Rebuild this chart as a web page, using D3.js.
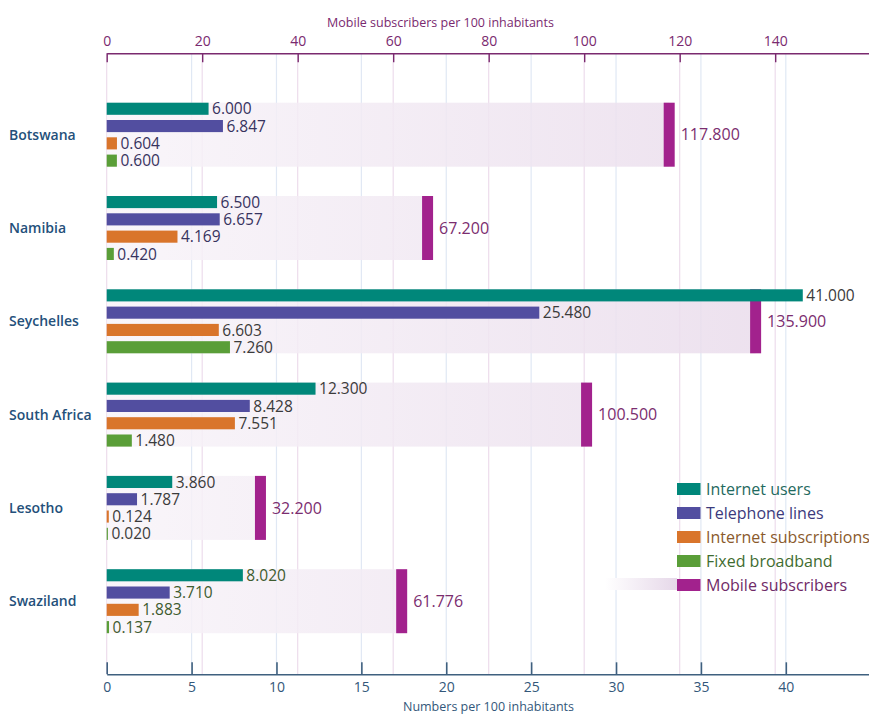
<!DOCTYPE html>
<html>
<head>
<meta charset="utf-8">
<script src="https://cdn.jsdelivr.net/npm/d3@7"></script>
<style>
    body { margin: 0; background: #fff; }
    text { font-family: "Open Sans", "DejaVu Sans", sans-serif; }
</style>
</head>
<body>
<div id="chart"></div>
<script>
// data
const countries = ["Botswana", "Namibia", "Seychelles", "South Africa", "Lesotho", "Swaziland"];
const seriesNames = ["Internet users", "Telephone lines", "Internet subscriptions", "Fixed broadband"];
const internetUsers = [6.000, 6.500, 41.000, 12.300, 3.860, 8.020];
const telephoneLines = [6.847, 6.657, 25.480, 8.428, 1.787, 3.710];
const internetSubs = [0.604, 4.169, 6.603, 7.551, 0.124, 1.883];
const fixedBroadband = [0.600, 0.420, 7.260, 1.480, 0.020, 0.137];
const mobileSubs = [117.800, 67.200, 135.900, 100.500, 32.200, 61.776];
const bottomTicks = [0, 5, 10, 15, 20, 25, 30, 35, 40];
const topTicks = [0, 20, 40, 60, 80, 100, 120, 140];

class accessViz {
    constructor(parentElement) {
        this.parentElement = parentElement;
        this.colors = d3.scaleOrdinal()
            .domain(seriesNames.concat(["Mobile subscribers"]))
            .range(["#00877a", "#524ea0", "#d9752b", "#5a9e38", "#a2228d"]);
        this.textColors = d3.scaleOrdinal()
            .domain(seriesNames.concat(["Mobile subscribers"]))
            .range(["#1f6a60", "#3c3a7c", "#8a5a2c", "#3f6c30", "#6f2a67"]);
        this.labelColors = ["#37335e", "#37335e", "#3b3b3b", "#3b3b3b", "#3b3b3b", "#3e5b2f"];
        this.initVis();
    }

    initVis() {
        let vis = this;

        vis.width = 869;
        vis.height = 715;

        vis.svg = d3.select("#" + vis.parentElement).append("svg")
            .attr("width", vis.width)
            .attr("height", vis.height);

        let defs = vis.svg.append("defs");
        let band = defs.append("linearGradient")
            .attr("id", "bandGrad")
            .attr("gradientUnits", "userSpaceOnUse")
            .attr("x1", 107).attr("x2", 790).attr("y1", 0).attr("y2", 0);
        band.append("stop").attr("offset", 0).attr("stop-color", "#f8f4f9");
        band.append("stop").attr("offset", 1).attr("stop-color", "#e9dbeb");

        let legGrad = defs.append("linearGradient").attr("id", "legGrad");
        legGrad.append("stop").attr("offset", 0).attr("stop-color", "#ffffff");
        legGrad.append("stop").attr("offset", 1).attr("stop-color", "#e6d8e9");

        vis.x = d3.scaleLinear().domain([0, 45]).range([106.7, 870.7]);
        vis.xTop = d3.scaleLinear().domain([0, 160]).range([106.7, 870.7]);

        vis.y = d3.scaleBand()
            .domain(countries)
            .range([102.7, 633.2])
            .paddingInner(0.314);

        vis.ySub = d3.scaleBand()
            .domain(seriesNames)
            .range([0, vis.y.bandwidth()])
            .paddingInner(0.3);

        vis.rows = countries.map((c, i) => ({
            country: c,
            idx: i,
            values: [internetUsers[i], telephoneLines[i], internetSubs[i], fixedBroadband[i]],
            mobile: mobileSubs[i]
        }));

        vis.updateVis();
    }

    updateVis() {
        let vis = this;

        // grid lines
        vis.svg.selectAll(".gridTop")
            .data(topTicks)
            .enter()
            .append("line")
            .attr("x1", d => vis.xTop(d)).attr("x2", d => vis.xTop(d))
            .attr("y1", 53).attr("y2", 674)
            .style("stroke", "#eddcec")
            .style("stroke-width", 1.2);

        vis.svg.selectAll(".gridBottom")
            .data(bottomTicks.slice(1))
            .enter()
            .append("line")
            .attr("x1", d => vis.x(d)).attr("x2", d => vis.x(d))
            .attr("y1", 53).attr("y2", 674)
            .style("stroke", "#e0e8f4")
            .style("stroke-width", 1.2);

        // shaded background up to the mobile value
        vis.svg.selectAll(".bg")
            .data(vis.rows)
            .enter()
            .append("rect")
            .attr("class", "bg")
            .attr("x", vis.xTop(0))
            .attr("y", d => vis.y(d.country))
            .attr("width", d => vis.xTop(d.mobile) - vis.xTop(0))
            .attr("height", vis.y.bandwidth())
            .style("fill", "url(#bandGrad)")
            .style("opacity", 0.85);

        // country groups
        let groups = vis.svg.selectAll(".country")
            .data(vis.rows)
            .enter()
            .append("g")
            .attr("transform", d => "translate(0," + vis.y(d.country) + ")");

        groups.append("rect")
            .attr("x", d => vis.xTop(d.mobile) - 5.5)
            .attr("y", 0)
            .attr("width", 11)
            .attr("height", vis.y.bandwidth())
            .style("fill", vis.colors("Mobile subscribers"));

        groups.selectAll(".bar")
            .data(d => d.values.map((v, j) => ({v: v, s: seriesNames[j], idx: d.idx})))
            .enter()
            .append("rect")
            .attr("x", vis.x(0))
            .attr("y", d => vis.ySub(d.s))
            .attr("width", d => Math.max(1.2, vis.x(d.v) - vis.x(0)))
            .attr("height", vis.ySub.bandwidth())
            .style("fill", d => vis.colors(d.s));

        groups.selectAll(".val")
            .data(d => d.values.map((v, j) => ({v: v, s: seriesNames[j], idx: d.idx})))
            .enter()
            .append("text")
            .attr("x", d => Math.max(vis.x(d.v), vis.x(0) + 1.2) + 3.5)
            .attr("y", d => vis.ySub(d.s) + vis.ySub.bandwidth() / 2)
            .attr("dy", "0.36em")
            .style("font-size", "15.5px")
            .style("fill", d => vis.labelColors[d.idx])
            .text(d => d3.format(".3f")(d.v));

        groups.append("text")
            .attr("x", d => vis.xTop(d.mobile) + 11.5)
            .attr("y", vis.y.bandwidth() / 2)
            .attr("dy", "0.36em")
            .style("font-size", "16px")
            .style("fill", "#7b2d6f")
            .text(d => d3.format(".3f")(d.mobile));

        groups.append("text")
            .attr("x", 9)
            .attr("y", vis.y.bandwidth() / 2)
            .attr("dy", "0.36em")
            .style("font-size", "14px")
            .style("font-weight", 600)
            .style("fill", "#24507a")
            .text(d => d.country);

        // axes
        vis.xAxis = d3.axisBottom(vis.x)
            .tickValues(bottomTicks)
            .tickSize(-12)
            .tickSizeOuter(0)
            .tickPadding(8);

        let ax = vis.svg.append("g")
            .attr("class", "x-axis axis")
            .attr("transform", "translate(0,674.3)")
            .call(vis.xAxis);
        ax.selectAll("path, line").style("stroke", "#3f607f").style("stroke-width", 1.6);
        ax.selectAll("text").style("font-size", "14px").style("fill", "#33577a")
            .style("font-family", "'Open Sans', sans-serif");

        vis.xAxisTop = d3.axisTop(vis.xTop)
            .tickValues(topTicks)
            .tickSize(-9)
            .tickSizeOuter(0)
            .tickPadding(7);

        let axTop = vis.svg.append("g")
            .attr("class", "x-axis-top axis")
            .attr("transform", "translate(0,53.3)")
            .call(vis.xAxisTop);
        axTop.selectAll("path, line").style("stroke", "#7a2a6f").style("stroke-width", 1.4);
        axTop.selectAll("text").style("font-size", "14px").style("fill", "#7a2a6f")
            .style("font-family", "'Open Sans', sans-serif");

        vis.svg.append("text")
            .attr("x", 440.5)
            .attr("y", 26.5)
            .attr("text-anchor", "middle")
            .style("font-size", "12.5px")
            .style("fill", "#7a2a6f")
            .text("Mobile subscribers per 100 inhabitants");

        vis.svg.append("text")
            .attr("x", 488.5)
            .attr("y", 711)
            .attr("text-anchor", "middle")
            .style("font-size", "12.5px")
            .style("fill", "#33577a")
            .text("Numbers per 100 inhabitants");

        // legend
        let legendNames = seriesNames.concat(["Mobile subscribers"]);
        vis.svg.append("rect")
            .attr("x", 605).attr("y", 578)
            .attr("width", 72).attr("height", 12)
            .style("fill", "url(#legGrad)");

        let leg = vis.svg.selectAll(".legend")
            .data(legendNames)
            .enter()
            .append("g")
            .attr("transform", (d, i) => "translate(677," + (489 + i * 24) + ")");

        leg.append("rect")
            .attr("x", 0).attr("y", -6)
            .attr("width", 23.5).attr("height", 12)
            .style("fill", d => vis.colors(d));

        leg.append("text")
            .attr("x", 29)
            .attr("dy", "0.36em")
            .style("font-size", "16px")
            .style("fill", d => vis.textColors(d))
            .text(d => d);
    }
}

new accessViz("chart");
</script>
</body>
</html>
